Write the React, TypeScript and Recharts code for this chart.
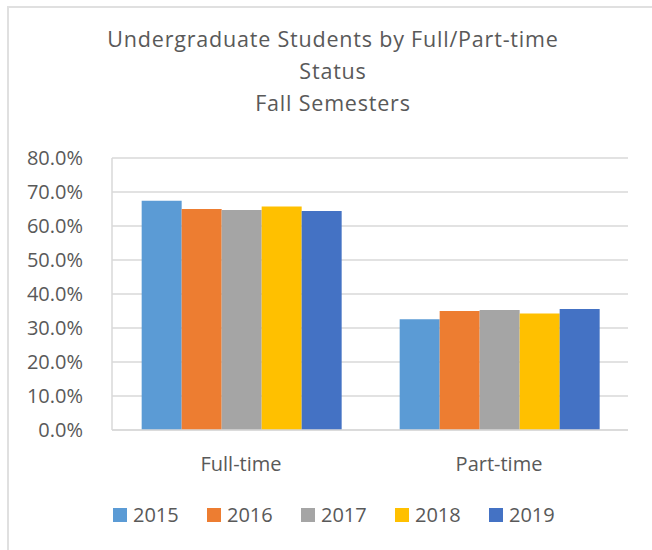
import React from 'react';
import { BarChart, Bar, XAxis, YAxis, CartesianGrid } from 'recharts';

const categories = ['Full-time', 'Part-time'];
const years = ['2015', '2016', '2017', '2018', '2019'];
const values2015 = [0.674, 0.326];
const values2016 = [0.65, 0.35];
const values2017 = [0.647, 0.353];
const values2018 = [0.657, 0.343];
const values2019 = [0.644, 0.356];
const yTicks = [0, 0.1, 0.2, 0.3, 0.4, 0.5, 0.6, 0.7, 0.8];
const titleLines = ['Undergraduate Students by Full/Part-time', 'Status', 'Fall Semesters'];
const colors = ['#5B9BD5', '#ED7D31', '#A5A5A5', '#FFC000', '#4472C4'];

const seriesValues = [values2015, values2016, values2017, values2018, values2019];
const data = categories.map((c, i) => {
  const row: Record<string, string | number> = { category: c };
  years.forEach((y, k) => {
    row[y] = seriesValues[k][i];
  });
  return row;
});

const FONT = '"Open Sans", sans-serif';
const TEXT = '#595959';
const GRID = '#D9D9D9';

export default function App() {
  return (
    <div style={{ position: 'fixed', left: 0, top: 0, width: 652, height: 550, background: '#fff', overflow: 'hidden', fontFamily: FONT }}>
      <div style={{ position: 'absolute', left: 7, top: 6, width: 700, height: 600, borderLeft: '2px solid #E0E0E0', borderTop: '2px solid #E0E0E0', boxSizing: 'border-box' }} />
      <div style={{ position: 'absolute', left: 0, top: 0 }}>
        <BarChart
          width={652}
          height={550}
          data={data}
          margin={{ top: 158, right: 24, left: 0, bottom: 0 }}
          barCategoryGap="11.5%"
          barGap={0}
        >
          <CartesianGrid vertical={false} stroke={GRID} strokeWidth={1.5} />
          <XAxis
            dataKey="category"
            axisLine={{ stroke: GRID, strokeWidth: 1.5 }}
            tickLine={false}
            tickSize={0}
            tickMargin={27}
            height={120}
            tick={{ fill: TEXT, fontSize: 20, fontFamily: FONT }}
          />
          <YAxis
            domain={[0, 0.8]}
            ticks={yTicks}
            interval={0}
            width={112}
            axisLine={{ stroke: GRID, strokeWidth: 1.5 }}
            tickLine={false}
            tickSize={0}
            tickMargin={29}
            tickFormatter={(v: number) => `${(v * 100).toFixed(1)}%`}
            tick={{ fill: TEXT, fontSize: 20, fontFamily: FONT }}
          />
          {years.map((y, k) => (
            <Bar key={y} dataKey={y} fill={colors[k]} isAnimationActive={false} />
          ))}
        </BarChart>
      </div>
      <svg width={652} height={140} style={{ position: 'absolute', left: 0, top: 0, pointerEvents: 'none' }}>
        {titleLines.map((t, i) => (
          <text key={t} x={333} y={47 + i * 32} textAnchor="middle" fill={TEXT} fontSize={21.5} letterSpacing={0.8} fontFamily={FONT}>
            {t}
          </text>
        ))}
      </svg>
      <div style={{ position: 'absolute', left: 113, top: 500, height: 30, display: 'flex', alignItems: 'center' }}>
        {years.map((y, k) => (
          <div key={y} style={{ width: 94, display: 'flex', alignItems: 'center' }}>
            <div style={{ width: 14, height: 14, background: colors[k], marginRight: 6 }} />
            <span style={{ fontSize: 20, color: TEXT, lineHeight: '30px' }}>{y}</span>
          </div>
        ))}
      </div>
    </div>
  );
}
